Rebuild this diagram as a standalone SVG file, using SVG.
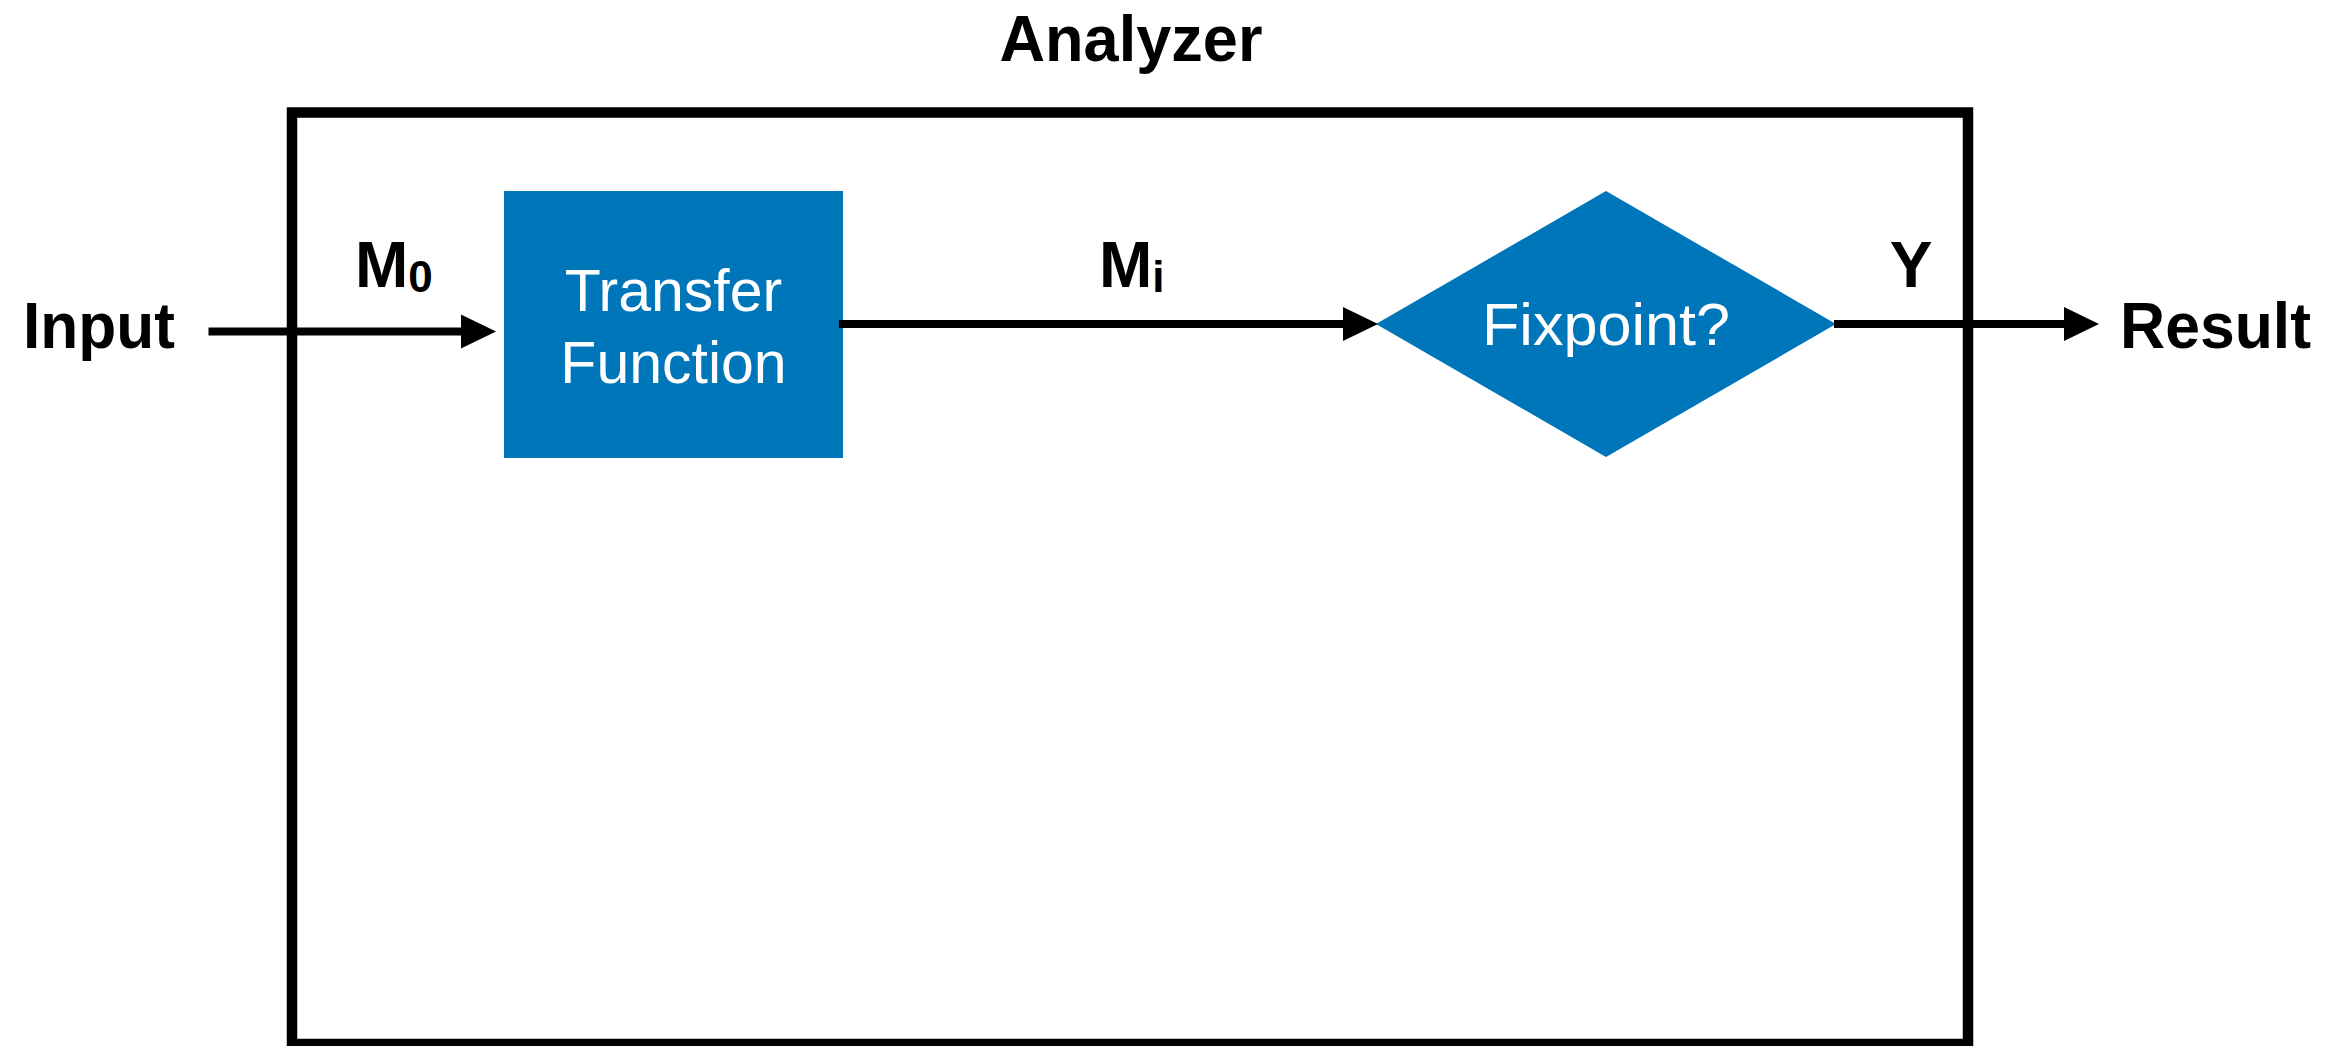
<svg xmlns="http://www.w3.org/2000/svg" width="2348" height="1046" viewBox="0 0 2348 1046">
  <style>
    .lbl { font-family: "Liberation Sans", Arial, sans-serif; font-weight: bold; font-size: 64px; fill: #000; }
    .sub { font-size: 44px; }
    .inner { font-family: "Liberation Sans", Arial, sans-serif; font-size: 59px; fill: #fff; text-anchor: middle; }
    .blue { fill: #0076BA; }
    .conn { stroke: #000; stroke-width: 8; fill: none; marker-end: url(#arrow); }
  </style>
  <defs>
    <marker id="arrow" markerUnits="userSpaceOnUse" markerWidth="35" markerHeight="34" refX="0" refY="17" orient="auto" overflow="visible">
      <path d="M0,0 L35,17 L0,34 z" fill="#000"/>
    </marker>
  </defs>
  <rect width="2348" height="1046" fill="#fff"/>
  <g id="analyzer">
    <rect x="292" y="112.5" width="1676" height="931.5" fill="none" stroke="#000" stroke-width="10.5"/>
    <text class="lbl" x="1131" y="61" text-anchor="middle" textLength="263" lengthAdjust="spacingAndGlyphs">Analyzer</text>
  </g>
  <g id="transfer-function">
    <rect class="blue" x="504" y="191" width="339" height="267"/>
    <text class="inner" x="673.5" y="311">Transfer</text>
    <text class="inner" x="673.5" y="383">Function</text>
  </g>
  <g id="fixpoint">
    <polygon class="blue" points="1376,324 1606,191 1836,324 1606,457"/>
    <text class="inner" x="1606" y="345" textLength="248" lengthAdjust="spacingAndGlyphs">Fixpoint?</text>
  </g>
  <g id="input">
    <text class="lbl" x="23" y="348" textLength="152" lengthAdjust="spacingAndGlyphs">Input</text>
  </g>
  <g id="result">
    <text class="lbl" x="2120" y="348" textLength="191" lengthAdjust="spacingAndGlyphs">Result</text>
  </g>
  <g id="connectors">
    <path class="conn" d="M208.5,331.5 H461"/>
    <path class="conn" d="M839,324 H1343"/>
    <path class="conn" d="M1834,324 H2064"/>
    <text class="lbl" x="355" y="287">M<tspan class="sub" dy="5">0</tspan></text>
    <text class="lbl" x="1099" y="287">M<tspan class="sub" dy="5">i</tspan></text>
    <text class="lbl" x="1911" y="287" text-anchor="middle">Y</text>
  </g>
</svg>
